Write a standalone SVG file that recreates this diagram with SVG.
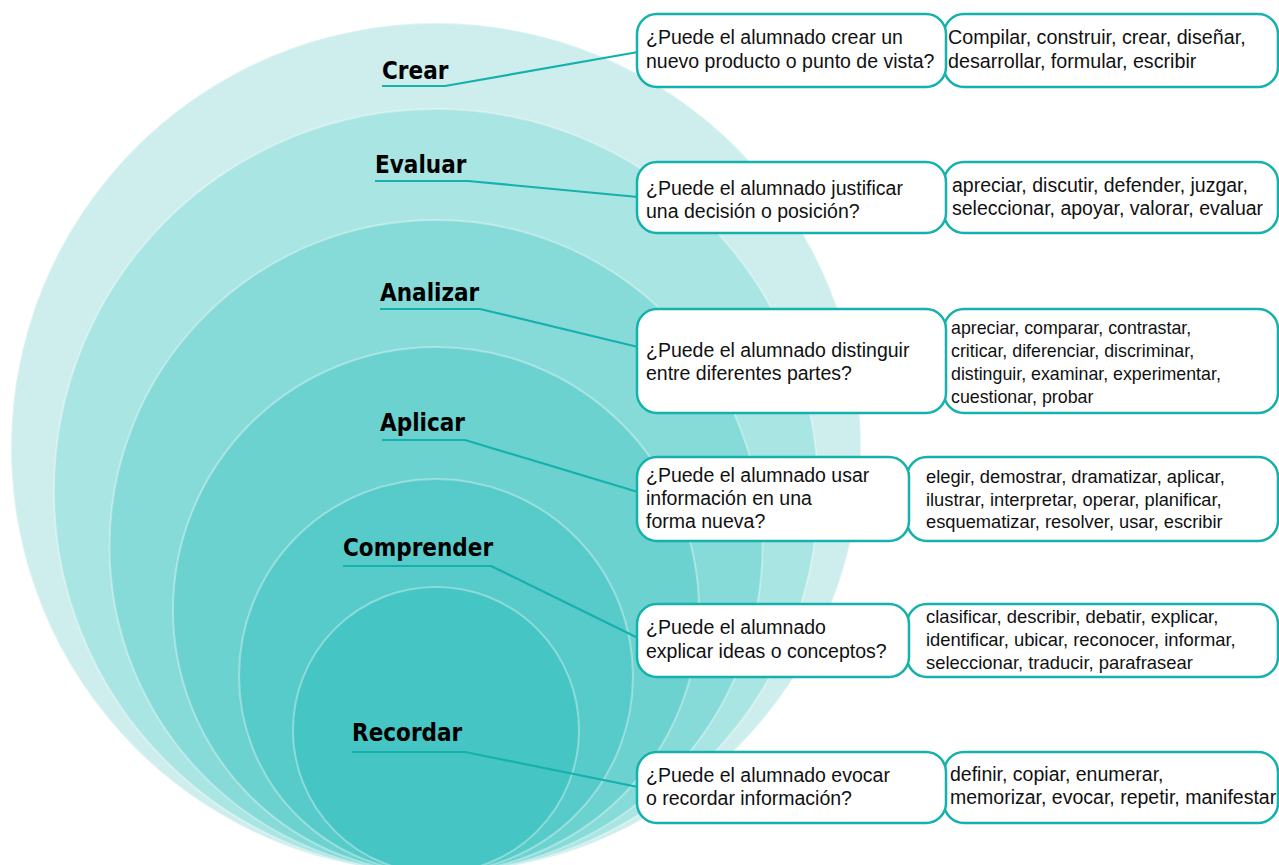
<svg xmlns="http://www.w3.org/2000/svg" width="1279" height="865" viewBox="0 0 1279 865">
<style>
.ring{stroke:#ffffff;stroke-opacity:0.35;stroke-width:2}
.lbl{font-family:"DejaVu Sans Condensed","DejaVu Sans",sans-serif;font-stretch:condensed;font-weight:bold;font-size:24px;fill:#000}
.conn{fill:none;stroke:#14b1ad;stroke-width:2.2;stroke-linejoin:round}
.box{fill:#fff;stroke:#14b1ad;stroke-width:2.5}
.q{font-family:"Liberation Sans",Arial,sans-serif;font-size:19.5px;fill:#111}
.v{font-family:"Liberation Sans",Arial,sans-serif;fill:#111}
</style>
<rect width="1279" height="865" fill="#fff"/>
<g id="circles">
<circle class="ring" cx="436" cy="448" r="425" fill="#cdeeed"/>
<circle class="ring" cx="436" cy="491" r="382" fill="#a8e5e3"/>
<circle class="ring" cx="436" cy="546.5" r="326.5" fill="#86dbd9"/>
<circle class="ring" cx="436" cy="610" r="263" fill="#6bd2d0"/>
<circle class="ring" cx="436" cy="676" r="197" fill="#57cbc9"/>
<circle class="ring" cx="436" cy="730" r="143" fill="#45c6c4"/>
</g>
<g id="connectors">
<polyline class="conn" points="382,86 445,86 638,52"/>
<polyline class="conn" points="375,181 468,181 638,197"/>
<polyline class="conn" points="380,309 480,309 638,347"/>
<polyline class="conn" points="382,440 465,440 638,492"/>
<polyline class="conn" points="343,566 491,566 638,638"/>
<polyline class="conn" points="352,752 465,752 638,787"/>
</g>
<g id="crear">
<text class="lbl" x="382" y="79">Crear</text>
<rect class="box" x="944" y="14" width="334" height="73" rx="20"/>
<rect class="box" x="637" y="14" width="309" height="73" rx="20"/>
<text class="q" x="646" y="44">¿Puede el alumnado crear un</text>
<text class="q" x="646" y="68">nuevo producto o punto de vista?</text>
<text class="v" font-size="19.7" x="948" y="44">Compilar, construir, crear, diseñar,</text>
<text class="v" font-size="19.7" x="948" y="68">desarrollar, formular, escribir</text>
</g>
<g id="evaluar">
<text class="lbl" x="375" y="173">Evaluar</text>
<rect class="box" x="944" y="162" width="334" height="71" rx="20"/>
<rect class="box" x="637" y="162" width="309" height="71" rx="20"/>
<text class="q" x="646" y="195">¿Puede el alumnado justificar</text>
<text class="q" x="646" y="218">una decisión o posición?</text>
<text class="v" font-size="19.5" x="952" y="192">apreciar, discutir, defender, juzgar,</text>
<text class="v" font-size="19.5" x="952" y="215">seleccionar, apoyar, valorar, evaluar</text>
</g>
<g id="analizar">
<text class="lbl" x="380" y="301">Analizar</text>
<rect class="box" x="944" y="309" width="334" height="104" rx="20"/>
<rect class="box" x="637" y="309" width="309" height="104" rx="20"/>
<text class="q" x="646" y="357">¿Puede el alumnado distinguir</text>
<text class="q" x="646" y="380">entre diferentes partes?</text>
<text class="v" font-size="17.8" x="951" y="334">apreciar, comparar, contrastar,</text>
<text class="v" font-size="17.8" x="951" y="357">criticar, diferenciar, discriminar,</text>
<text class="v" font-size="17.8" x="951" y="380">distinguir, examinar, experimentar,</text>
<text class="v" font-size="17.8" x="951" y="403">cuestionar, probar</text>
</g>
<g id="aplicar">
<text class="lbl" x="380" y="431">Aplicar</text>
<rect class="box" x="907" y="457" width="371" height="84" rx="20"/>
<rect class="box" x="637" y="457" width="272" height="84" rx="20"/>
<text class="q" x="646" y="482">¿Puede el alumnado usar</text>
<text class="q" x="646" y="505">información en una</text>
<text class="q" x="646" y="528">forma nueva?</text>
<text class="v" font-size="18.3" x="926" y="483">elegir, demostrar, dramatizar, aplicar,</text>
<text class="v" font-size="18.3" x="926" y="506">ilustrar, interpretar, operar, planificar,</text>
<text class="v" font-size="18.3" x="926" y="528">esquematizar, resolver, usar, escribir</text>
</g>
<g id="comprender">
<text class="lbl" x="343" y="556">Comprender</text>
<rect class="box" x="907" y="604" width="371" height="73" rx="20"/>
<rect class="box" x="637" y="604" width="272" height="73" rx="20"/>
<text class="q" x="646" y="634">¿Puede el alumnado</text>
<text class="q" x="646" y="658">explicar ideas o conceptos?</text>
<text class="v" font-size="18.4" x="926" y="623">clasificar, describir, debatir, explicar,</text>
<text class="v" font-size="18.4" x="926" y="646">identificar, ubicar, reconocer, informar,</text>
<text class="v" font-size="18.4" x="926" y="669">seleccionar, traducir, parafrasear</text>
</g>
<g id="recordar">
<text class="lbl" x="352" y="741">Recordar</text>
<rect class="box" x="944" y="752" width="334" height="71" rx="20"/>
<rect class="box" x="637" y="752" width="309" height="71" rx="20"/>
<text class="q" x="646" y="782">¿Puede el alumnado evocar</text>
<text class="q" x="646" y="805">o recordar información?</text>
<text class="v" font-size="19.5" x="950" y="781">definir, copiar, enumerar,</text>
<text class="v" font-size="19.5" x="950" y="804">memorizar, evocar, repetir, manifestar</text>
</g>
</svg>
